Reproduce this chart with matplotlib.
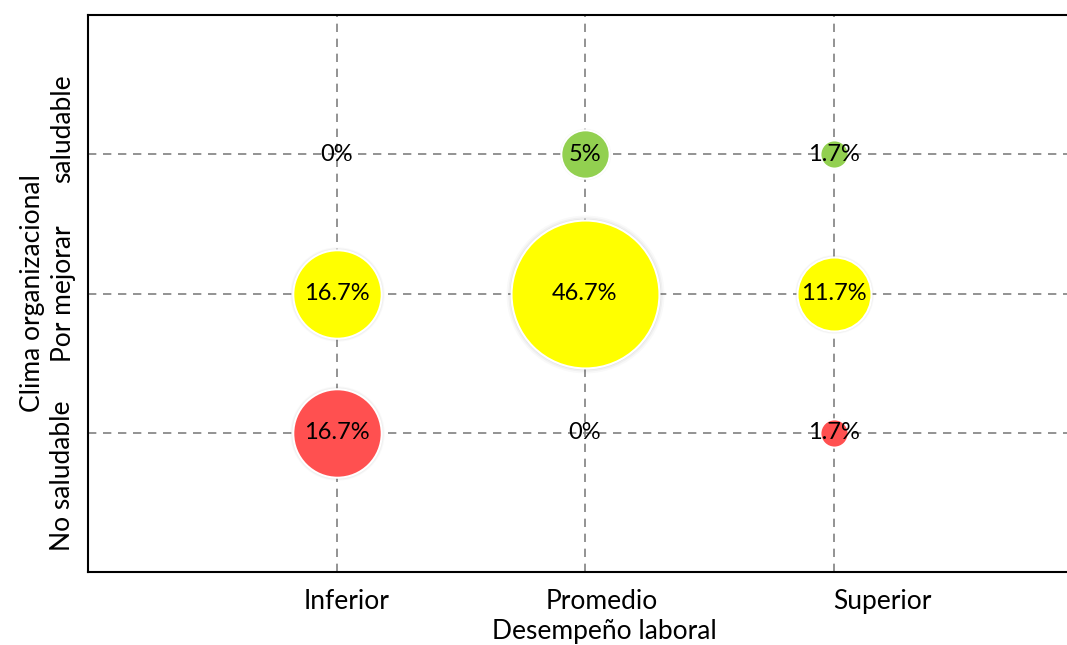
import matplotlib
matplotlib.use("Agg")
import matplotlib.pyplot as plt
import matplotlib.transforms as mtransforms

plt.rcParams['font.family'] = ['Lato', 'DejaVu Sans']

# Desempeño laboral (x) vs Clima organizacional (y)
desempeno = ["Inferior", "Promedio", "Superior"]
clima = ["No saludable", "Por mejorar", "saludable"]

# percentage per cell, one row per climate level
no_saludable = [16.7, 0.0, 1.7]
por_mejorar = [16.7, 46.7, 11.7]
saludable = [0.0, 5.0, 1.7]

row_colors = ["#FF5050", "#FFFF00", "#92D050"]

fig = plt.figure(figsize=(10.67, 6.45), dpi=100)
ax = fig.add_axes([88 / 1067, 1 - 572 / 645, (1082 - 88) / 1067, (572 - 15) / 645])

ax.set_xlim(0, 4)
ax.set_ylim(0, 4)

xs = [1, 2, 3]
scale = 243.0  # points^2 per percent (bubble area proportional to value)
for yi, (row, color) in enumerate(zip([no_saludable, por_mejorar, saludable], row_colors)):
    y = yi + 1
    for x, v in zip(xs, row):
        if v > 0:
            # soft shadow
            for k, a in [(1.14, 0.025), (1.09, 0.035), (1.045, 0.05)]:
                ax.scatter([x], [y], s=v * scale * k, color="#000000", alpha=a,
                           linewidths=0, zorder=3)
            ax.scatter([x], [y], s=v * scale, color=color, edgecolors="white",
                       linewidths=1.5, zorder=4)
        label = f"{v:g}%"
        ax.text(x, y, label, ha="center", va="center", fontsize=17,
                color="black", zorder=5)

ax.set_xticks(xs)
ax.set_xticklabels(desempeno, fontsize=19)
ax.set_yticks([1, 2, 3])
ax.set_yticklabels(clima, fontsize=19, rotation=90, va="center")
ax.tick_params(length=0)
ax.tick_params(axis="x", pad=12)
ax.tick_params(axis="y", pad=9)

# nudge category labels away from their gridlines
def nudge(label, dx, dy):
    label.set_transform(label.get_transform()
                        + mtransforms.ScaledTranslation(dx / 100, dy / 100, fig.dpi_scale_trans))

for lab, dx in zip(ax.get_xticklabels(), [10, 17, 49]):
    nudge(lab, dx, 0)
for lab, dy in zip(ax.get_yticklabels(), [-43, 0, 26]):
    nudge(lab, 0, dy)

ax.set_xlabel("Desempeño laboral", fontsize=19, labelpad=4)
ax.xaxis.set_label_coords(0.519, -0.085)
ax.set_ylabel("Clima organizacional", fontsize=19, labelpad=4)

ax.grid(True, color="#808080", linestyle=(0, (5, 4)), linewidth=1.2)
ax.set_axisbelow(True)
for side in ["left", "bottom", "top"]:
    ax.spines[side].set_linewidth(1.5)
    ax.spines[side].set_color("black")
ax.spines["right"].set_visible(False)

fig.savefig("out.png", dpi=100)
